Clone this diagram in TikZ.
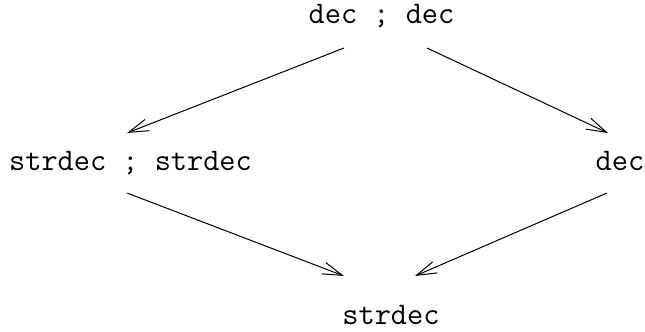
\documentclass[tikz,border=0pt]{standalone}
\usepackage{tikz}
\usetikzlibrary{arrows.meta}
\usetikzlibrary{positioning}

\begin{document}
\begin{tikzpicture}[
  x=0.5pt, y=-0.5pt,
  >={Straight Barb[length=10pt, width=6pt]},
  term/.style={font=\ttfamily\fontsize{15.7}{18}\selectfont, inner sep=0pt, anchor=base},
  rule/.style={->, line width=0.5pt}
]
\useasboundingbox (0,0) rectangle (645,332);

\node [term] (top) at (381.5,24) {dec ; dec};
\node [term] (lft) at (130.5,170) {strdec ; strdec};
\node [term] (rgt) at (620,170) {dec};
\node [term] (bot) at (391,325) {strdec};

\draw [rule] ([shift={(-37.5,24)}]top.base) -- ([shift={(-3.5,-37)}]lft.base);
\draw [rule] ([shift={(45.5,24)}]top.base) -- ([shift={(-12,-37)}]rgt.base);
\draw [rule] ([shift={(-3.5,23)}]lft.base) -- ([shift={(-47,-49)}]bot.base);
\draw [rule] ([shift={(-13,23)}]rgt.base) -- ([shift={(24,-49)}]bot.base);
\end{tikzpicture}
\end{document}
